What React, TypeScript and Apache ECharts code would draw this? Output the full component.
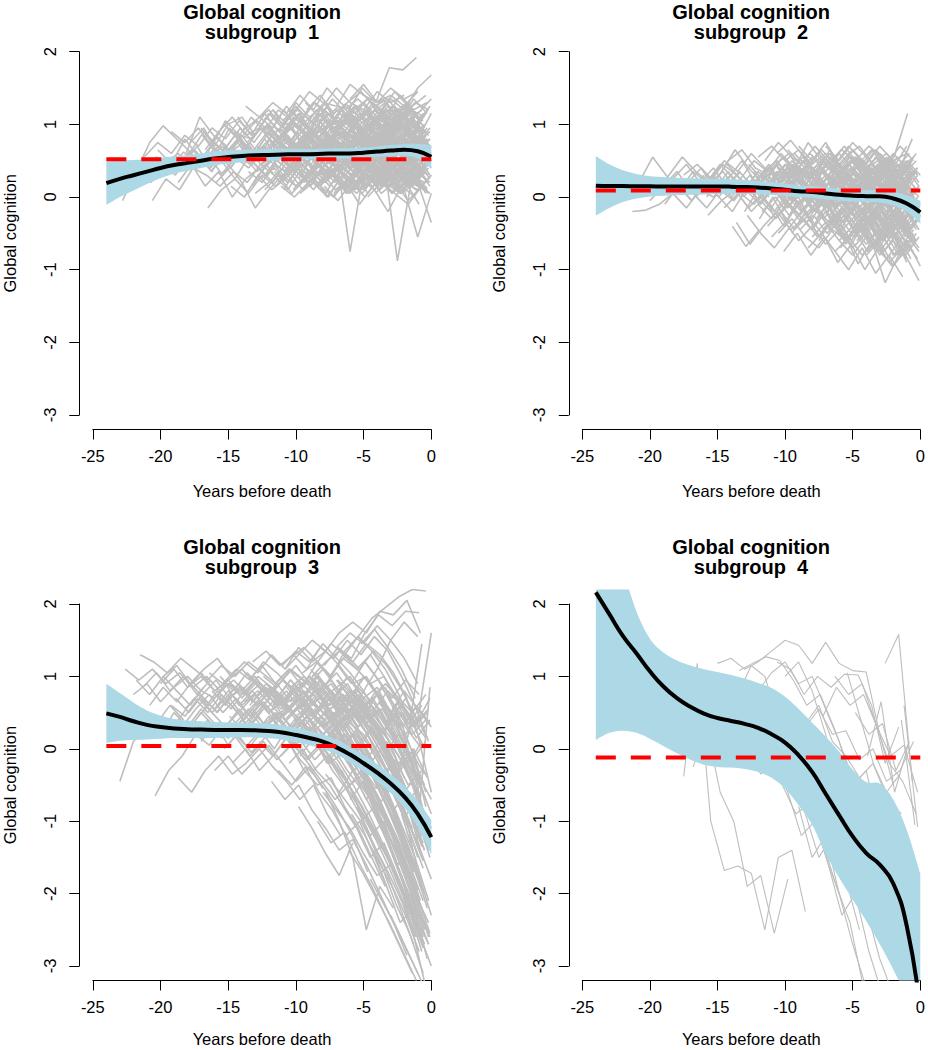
import React, { useEffect, useRef } from "react";
import * as echarts from "echarts";

// ---------- data ----------
const years = [-24, -23, -22, -21, -20, -19, -18, -17, -16, -15, -14, -13, -12, -11, -10, -9, -8, -7, -6, -5, -4, -3, -2, -1, 0];
const panelTitles = ["subgroup  1", "subgroup  2", "subgroup  3", "subgroup  4"];
const mainTitle = "Global cognition";
const xName = "Years before death";
const yName = "Global cognition";

// subgroup 1
const mean1 = [0.19, 0.25, 0.30, 0.35, 0.40, 0.44, 0.47, 0.50, 0.53, 0.55, 0.565, 0.575, 0.58, 0.585, 0.59, 0.59, 0.595, 0.60, 0.60, 0.61, 0.625, 0.64, 0.65, 0.63, 0.555];
const upper1 = [0.49, 0.50, 0.51, 0.52, 0.54, 0.56, 0.58, 0.60, 0.625, 0.64, 0.65, 0.655, 0.66, 0.665, 0.665, 0.66, 0.665, 0.67, 0.67, 0.68, 0.695, 0.715, 0.73, 0.73, 0.715];
const lower1 = [-0.11, 0.0, 0.09, 0.18, 0.26, 0.32, 0.36, 0.40, 0.435, 0.46, 0.48, 0.495, 0.50, 0.505, 0.515, 0.52, 0.525, 0.53, 0.53, 0.54, 0.555, 0.565, 0.57, 0.53, 0.395];
const ref1 = 0.52;
// each trajectory: [first year, value at that year, value one year later, ...]
const gray1: number[][] = [
  [-22.8, -0.05, 0.35, 0.75, 0.98, 0.8, 0.62, 0.9, 0.7, 0.55],
  [-22.3, 0.1, 0.3, 0.55, 0.4, 0.62, 0.45, 0.7, 0.58, 0.8, 0.66, 0.5, 0.75, 0.62, 0.9, 0.7, 0.84, 0.6, 0.78, 0.7, 0.9, 0.65, 0.8],
  [-21.2, 0.55, 0.75, 0.6, 0.85, 0.7, 0.95, 0.8, 1.05, 0.85, 0.98, 0.8, 1.1, 0.95, 1.2, 1.0, 1.15, 0.9, 1.05, 1.25, 1.0, 1.1],
  [-20.6, -0.05, 0.25, 0.1, 0.4, 0.3, 0.15, 0.35, 0.2, 0.45, 0.3, 0.1, 0.38, 0.25, 0.5, 0.32, 0.2, 0.45, 0.3, 0.15, 0.4, 0.28],
  [-19.9, 0.5, 0.3, 0.62, 0.45, 0.85, 0.6, 0.75, 0.5, 0.68, 0.9, 0.7, 0.55, 0.8, 0.65, 0.92, 0.7, 0.85, 0.6, 0.78, 0.95],
  [-19.2, 0.9, 0.75, 0.95, 0.7, 1.05, 0.85, 0.8, 1.1, 0.9, 1.0, 0.82, 1.15, 0.95, 1.05, 0.88, 1.2, 1.0, 0.92, 1.1],
  [-18.7, 0.2, 0.45, 0.15, 0.35, 0.0, 0.25, 0.4, 0.2, 0.48, 0.3, 0.1, 0.35, 0.22, 0.45, 0.3, 0.15, 0.4, 0.25],
  [-18.1, 0.6, 1.1, 0.85, 0.7, 0.95, 0.75, 1.0, 0.8, 0.65, 0.9, 0.75, 1.05, 0.85, 0.7, 0.95, 0.8, 1.0, 0.85, 0.7],
  [-17.4, 0.4, 0.55, 0.3, 0.6, 0.45, 0.7, 0.5, 0.35, 0.62, 0.48, 0.75, 0.55, 0.4, 0.68, 0.5, 0.6, 0.45, 0.7],
  [-17.0, 0.95, 0.7, 1.0, 1.1, 0.85, 1.15, 0.95, 1.25, 1.05, 0.9, 1.2, 1.0, 1.3, 1.1, 0.95, 1.25, 1.15, 1.35],
  [-16.5, -0.15, 0.1, 0.25, 0.05, 0.3, 0.15, 0.35, 0.1, 0.28, 0.4, 0.2, 0.05, 0.3, 0.15, 0.38, 0.22, 0.1],
  [-16.0, 0.75, 0.55, 0.85, 0.6, 0.9, 0.7, 0.5, 0.8, 0.65, 0.95, 0.72, 0.6, 0.88, 0.7, 0.55, 0.82, 0.68],
  [-15.6, 0.3, 0.5, 0.7, 0.45, 0.62, 0.85, 0.55, 0.4, 0.72, 0.6, 0.5, 0.78, 0.55, 0.65, 0.45, 0.7],
  [-15.3, 1.0, 0.8, 1.1, 0.9, 1.2, 1.05, 0.85, 1.15, 1.0, 1.28, 1.1, 0.95, 1.2, 1.05, 1.35, 1.15],
  [-14.8, 0.15, 0.0, 0.3, 0.1, 0.25, 0.45, 0.2, 0.05, 0.35, 0.15, 0.3, 0.1, 0.28, 0.4, 0.2],
  [-14.4, 0.55, 0.75, 0.5, 0.8, 0.95, 0.7, 0.6, 0.85, 0.65, 0.9, 0.75, 0.55, 0.8, 0.7, 0.92],
  [-13.9, 0.85, 1.05, 0.9, 1.2, 0.95, 1.1, 1.3, 1.0, 1.15, 0.9, 1.2, 1.05, 1.25, 1.1],
  [-13.5, 0.35, 0.2, 0.45, 0.3, 0.55, 0.35, 0.25, 0.5, 0.3, 0.42, 0.2, 0.38, 0.25, 0.45],
  [-13.1, 0.65, 0.9, 0.7, 0.5, 0.8, 0.95, 0.72, 0.6, 0.88, 0.7, 0.82, 0.58, 0.75, 0.9],
  [-12.7, 1.1, 0.95, 1.25, 1.05, 1.3, 1.15, 0.98, 1.2, 1.35, 1.1, 1.25, 1.05, 1.2],
  [-12.3, 0.1, 0.3, 0.05, 0.25, 0.15, 0.35, 0.05, 0.2, 0.4, 0.18, 0.05, 0.3, 0.12],
  [-12.0, 0.5, 0.65, 0.45, 0.7, 0.55, 0.8, 0.6, 0.48, 0.72, 0.58, 0.68, 0.5, 0.62],
  [-11.6, 0.8, 0.65, 0.9, 0.75, 1.0, 0.82, 0.7, 0.95, 0.78, 1.05, 0.85, 0.72],
  [-11.2, 0.25, 0.45, 0.6, 0.4, 0.3, 0.55, 0.42, 0.65, 0.35, 0.5, 0.38, 0.58],
  [-10.8, 0.95, 1.15, 0.9, 1.1, 1.25, 1.0, 1.2, 0.95, 1.15, 1.3, 1.05],
  [-10.4, 0.6, 0.4, 0.7, 0.55, 0.75, 0.5, 0.65, 0.85, 0.6, 0.45, 0.7],
  [-10.0, 0.15, 0.35, 0.2, 0.4, 0.25, 0.1, 0.3, 0.45, 0.22, 0.08, 0.3],
  [-9.6, 0.75, 0.95, 0.8, 1.0, 0.85, 1.1, 0.9, 0.75, 1.0, 0.88],
  [-9.2, 1.2, 1.4, 1.15, 1.3, 1.45, 1.25, 1.35, 1.1, 1.3, 1.2],
  [-8.8, 0.4, 0.2, 0.45, 0.3, 0.5, 0.35, 0.55, 0.3, 0.42],
  [-8.4, 0.7, 0.85, 0.6, 0.9, 0.7, 0.95, 0.75, 0.6, 0.85],
  [-8.0, 0.3, 0.5, 0.65, 0.45, 0.6, 0.4, 0.55, 0.7, 0.5],
  [-7.6, 1.0, 0.85, 1.1, 0.95, 1.2, 1.0, 0.9, 1.15],
  [-7.2, 0.05, 0.25, 0.1, 0.3, 0.15, 0.35, 0.2, 0.05],
  [-6.8, 0.55, 0.75, 0.6, 0.8, 0.65, 0.5, 0.72],
  [-6.3, 0.85, 1.05, 1.25, 1.0, 1.15, 0.95, 1.2],
  [-5.9, 0.45, 0.3, 0.55, 0.4, 0.6, 0.35],
  [-5.5, 0.7, 0.9, 0.75, 0.95, 0.8, 1.0],
  [-5.1, 0.2, 0.4, 0.25, 0.1, 0.35, 0.2],
  [-4.6, 0.9, 1.1, 0.95, 1.2, 1.05],
  [-9.0, 0.6, 0.75, 0.55, -0.75, 0.35, 0.5, 0.4, 0.6, 0.45],
  [-5.5, 0.45, 0.25, 0.5, -0.88, 0.2, 0.1],
  [-3.0, 0.3, 0.1, -0.55, 0.05],
  [-6.1, 1.2, 1.5, 1.3, 1.78, 1.75, 1.92],
  [-4.0, 1.1, 1.35, 1.2, 1.5, 1.68],
  [-11.0, 1.05, 1.2, 1.45, 1.3, 1.25, 1.55, 1.4, 1.3, 1.5, 1.35, 1.45],
  [-14.0, 0.9, 1.05, 1.2, 0.95, 1.3, 1.1, 1.25, 1.5, 1.3, 1.2, 1.45, 1.3, 1.4],
  [-16.7, 0.65, 0.9, 1.1, 0.85, 0.95, 1.2, 1.0, 1.1, 0.9, 1.15, 1.0, 1.25, 1.05, 0.95, 1.2, 1.1],
  [-12.5, 0.45, 0.6, 0.8, 0.55, 0.7, 0.45, 0.65, 0.85, 0.6, 0.75, 0.5, 0.7, 0.55],
  [-11.8, 0.9, 0.7, 0.55, 0.8, 0.6, 0.9, 0.7, 0.85, 0.65, 0.5, 0.75, 0.6],
  [-10.9, 0.35, 0.55, 0.75, 0.5, 0.65, 0.4, 0.6, 0.8, 0.55, 0.4, 0.65],
  [-9.9, 0.55, 0.3, 0.5, 0.7, 0.45, 0.62, 0.8, 0.55, 0.7, 0.5],
  [-8.9, 0.95, 0.75, 0.6, 0.85, 0.65, 0.9, 0.7, 0.55, 0.8],
  [-7.9, 0.25, 0.45, 0.3, 0.55, 0.4, 0.25, 0.5, 0.35],
  [-6.9, 0.65, 0.45, 0.7, 0.5, 0.8, 0.6, 0.75],
  [-15.9, 0.2, 0.4, 0.6, 0.35, 0.5, 0.3, 0.55, 0.45, 0.65, 0.4, 0.6, 0.5, 0.35, 0.55, 0.45, 0.6],
  [-14.1, 0.7, 0.5, 0.65, 0.45, 0.75, 0.55, 0.8, 0.6, 0.45, 0.7, 0.55, 0.75, 0.6, 0.5],
  [-13.0, 0.05, 0.2, 0.4, 0.15, 0.3, 0.5, 0.25, 0.1, 0.35, 0.2, 0.45, 0.3, 0.15],
  [-12.2, 1.0, 0.8, 1.05, 0.85, 0.7, 0.95, 1.1, 0.9, 0.75, 1.0, 0.85, 1.05],
  [-4.4, 0.6, 0.4, 0.65, 0.5, 0.7],
  [-3.6, 0.85, 0.65, 0.9, 0.7],
  [-7.3, 1.1, 0.9, 0.8, 1.05, 0.85, 1.0, 0.75, 0.95],
  [-10.2, 0.1, 0.3, 0.15, 0.0, 0.25, 0.35, 0.1, 0.3, 0.05, 0.2, 0.4],
  [-2.5, 0.3, 0.55, 0.35],
  [-19.5, 0.3, 0.5, 0.65, 0.45, 0.7, 0.55, 0.4, 0.6, 0.8, 0.55],
  [-17.8, 0.75, 0.95, 0.6, 0.4, 0.7, 0.5, 0.85, 0.65, 0.5],
  [-15.0, 0.45, 0.2, -0.15, 0.1, 0.3, 0.15],
  [-21.7, 0.35, 0.2, 0.45, 0.6, 0.4, 0.55, 0.7, 0.5],
  [-8.2, 0.15, 0.35, 0.05, 0.25, 0.1, -0.2, 0.15, 0.0],
  [-1.0, 0.2, -0.35],
  [-6.0, 1.35, 1.55, 1.3, 1.4, 1.25, 1.45],
  [-13.7, 1.25, 1.1, 1.3, 1.15, 1.4, 1.2, 1.5, 1.3, 1.15, 1.35, 1.2, 1.45, 1.25],
  [-12.9, 0.7, 0.55, 0.8, 0.65, 0.9, 0.75, 0.6, 0.85, 0.7, 0.95, 0.8, 0.65, 0.85],
  [-12.6, 0.25, 0.4, 0.2, 0.45, 0.3, 0.5, 0.35, 0.2, 0.4, 0.25, 0.45, 0.3, 0.5],
  [-11.9, 1.15, 1.0, 1.2, 1.05, 0.9, 1.1, 0.95, 1.2, 1.05, 1.25, 1.1, 0.95],
  [-11.4, 0.55, 0.7, 0.5, 0.75, 0.6, 0.45, 0.65, 0.8, 0.55, 0.7, 0.5, 0.65],
  [-11.1, 0.15, 0.0, 0.2, 0.35, 0.1, 0.25, 0.05, 0.3, 0.15, 0.35, 0.2, 0.05],
  [-10.7, 0.85, 0.65, 0.9, 0.7, 0.95, 0.8, 0.6, 0.85, 0.7, 0.9, 0.75],
  [-10.3, 0.4, 0.6, 0.45, 0.3, 0.5, 0.65, 0.4, 0.55, 0.35, 0.6, 0.45],
  [-9.8, 1.0, 0.8, 1.05, 0.9, 0.75, 1.0, 0.85, 1.1, 0.9, 1.05],
  [-9.4, 0.2, 0.45, 0.3, 0.15, 0.4, 0.25, 0.5, 0.3, 0.15, 0.35],
  [-9.1, 0.65, 0.5, 0.75, 0.6, 0.85, 0.65, 0.5, 0.7, 0.55, 0.8],
  [-8.7, 1.1, 0.95, 1.2, 1.0, 1.15, 0.9, 1.05, 1.25, 1.0],
  [-8.5, 0.35, 0.15, 0.4, 0.2, 0.45, 0.25, 0.1, 0.3, 0.2],
  [-8.1, 0.8, 0.6, 0.85, 0.7, 0.55, 0.8, 0.65, 0.9, 0.7],
  [-7.7, 0.45, 0.65, 0.4, 0.6, 0.45, 0.7, 0.5, 0.35],
  [-7.4, 0.9, 1.05, 0.85, 1.1, 0.95, 0.8, 1.05, 0.9],
  [-7.0, 0.2, 0.05, 0.3, 0.15, 0.4, 0.2, 0.1, 0.3],
  [-6.6, 0.7, 0.55, 0.8, 0.6, 0.75, 0.55, 0.7],
  [-6.2, 0.35, 0.5, 0.3, 0.55, 0.4, 0.25, 0.45],
  [-5.8, 1.05, 0.9, 1.15, 0.95, 1.1, 0.9],
  [-5.3, 0.6, 0.8, 0.65, 0.85, 0.7, 0.55],
  [-4.9, 0.3, 0.15, 0.4, 0.25, 0.45],
  [-4.2, 0.75, 0.95, 0.8, 1.0, 0.85],
  [-3.8, 0.1, 0.3, 0.15, 0.35],
  [-3.3, 0.55, 0.75, 0.6, 0.8],
  [-2.8, 1.0, 1.2, 1.05],
  [-2.2, 0.25, 0.45, 0.3],
  [-14.6, 0.9, 0.7, 0.95, 0.8, 0.65, 0.9, 0.75, 1.0, 0.85, 0.7, 0.95, 0.8, 1.05, 0.85],
  [-13.3, 0.5, 0.3, 0.55, 0.4, 0.25, 0.5, 0.35, 0.6, 0.45, 0.3, 0.55, 0.4, 0.6],
  [-15.2, 0.6, 0.8, 0.55, 0.75, 0.95, 0.7, 0.85, 0.6, 0.8, 0.65, 0.9, 0.7, 0.85, 0.6, 0.75],
  [-16.3, 0.35, 0.55, 0.75, 0.5, 0.7, 0.4, 0.6, 0.8, 0.5, 0.7, 0.45, 0.65, 0.85, 0.6, 0.75, 0.5],
  [-10.6, 1.2, 1.05, 1.3, 1.15, 1.0, 1.25, 1.1, 1.35, 1.15, 1.3],
  [-9.7, 0.05, 0.2, 0.0, 0.25, 0.1, 0.3, 0.05, 0.2, -0.05, 0.15],
  [-7.9, 0.15, -0.05, 0.2, 0.0, 0.25, 0.05, 0.2, -0.1],
  [-6.4, 1.2, 1.35, 1.15, 1.3, 1.1, 1.25, 1.4],
  [-11.5, 0.95, 0.75, 1.0, 0.8, 0.65, 0.9, 0.75, 0.95, 0.8, 1.0, 0.85, 0.7],
  [-12.8, 0.3, 0.5, 0.65, 0.4, 0.55, 0.75, 0.5, 0.35, 0.6, 0.45, 0.7, 0.5, 0.35],
  [-5.0, 0.5, 0.3, 0.55, 0.35, 0.6, 0.4],
  [-4.7, 0.0, 0.2, 0.05, -0.1, 0.15],
  [-8.6, 0.55, 0.75, 0.9, 0.7, 0.85, 0.65, 0.8, 0.6, 0.75],
  [-10.1, 0.7, 0.9, 0.65, 0.85, 0.7, 0.95, 0.75, 0.6, 0.85, 0.65, 0.8],
  [-6.9, 0.3, 0.5, 0.35, 0.55, 0.25, 0.45, 0.6],
  [-3.5, 1.15, 0.95, 1.2, 1.1],
  [-13.6, 0.75, 0.95, 0.7, 0.9, 1.05, 0.85, 1.0, 0.8, 0.95, 1.1, 0.9, 1.05, 0.85],
  [-12.4, 0.95, 0.6, 1.0, 0.7, 1.1, 0.8, 0.55, 0.9, 0.65, 1.0, 0.75, 0.5, 0.85],
  [-12.1, 0.3, 0.6, 0.35, 0.7, 0.4, 0.2, 0.55, 0.3, 0.65, 0.35, 0.15, 0.5, 0.25],
  [-11.7, 1.2, 0.9, 1.15, 0.85, 1.25, 0.95, 1.1, 0.8, 1.2, 0.9, 1.15, 0.85],
  [-11.3, 0.7, 0.45, 0.8, 0.5, 0.85, 0.55, 0.9, 0.6, 0.35, 0.75, 0.5, 0.8],
  [-10.9, 0.1, 0.4, 0.15, 0.45, 0.2, 0.5, 0.1, 0.35, 0.05, 0.4, 0.15],
  [-10.5, 1.0, 0.7, 1.05, 0.75, 1.15, 0.85, 0.65, 1.0, 0.7, 1.1, 0.8],
  [-10.2, 0.55, 0.85, 0.5, 0.8, 0.45, 0.75, 0.5, 0.9, 0.55, 0.8, 0.5],
  [-9.8, 0.25, 0.55, 0.3, 0.6, 0.35, 0.15, 0.5, 0.25, 0.6, 0.3],
  [-9.5, 0.9, 1.2, 0.95, 1.25, 1.0, 0.75, 1.1, 0.85, 1.2, 0.95],
  [-9.1, 0.45, 0.2, 0.5, 0.75, 0.4, 0.65, 0.3, 0.55, 0.25, 0.6],
  [-8.8, 0.8, 1.05, 0.7, 0.95, 0.6, 0.9, 0.65, 1.0, 0.75],
  [-8.4, 0.15, 0.4, 0.1, 0.35, 0.55, 0.25, 0.45, 0.15, 0.4],
  [-8.1, 1.15, 0.85, 1.2, 0.9, 1.1, 0.8, 1.15, 0.95, 1.25],
  [-7.8, 0.6, 0.35, 0.7, 0.45, 0.75, 0.5, 0.8, 0.55],
  [-7.5, 0.4, 0.7, 0.45, 0.8, 0.5, 0.3, 0.65, 0.4],
  [-7.1, 0.85, 1.1, 0.8, 1.05, 0.75, 1.0, 0.7, 0.95],
  [-6.7, 0.1, 0.35, 0.05, 0.3, 0.5, 0.2, 0.4],
  [-6.5, 0.75, 0.5, 0.85, 0.6, 0.95, 0.65, 0.9],
  [-6.1, 0.45, 0.7, 0.4, 0.65, 0.35, 0.6, 0.3],
  [-5.7, 1.1, 0.8, 1.15, 0.85, 1.2, 0.9],
  [-5.4, 0.25, 0.55, 0.2, 0.5, 0.15, 0.45],
  [-5.1, 0.8, 0.55, 0.9, 0.6, 0.95, 0.7],
  [-4.8, 0.5, 0.85, 0.55, 0.9, 0.6],
  [-4.5, 1.0, 0.7, 1.1, 0.75, 1.15],
  [-4.1, 0.05, 0.3, 0.1, 0.4, 0.15],
  [-3.7, 0.65, 0.4, 0.75, 0.45],
  [-3.4, 0.95, 1.2, 0.9, 1.15],
  [-3.1, 0.35, 0.6, 0.25, 0.55],
  [-2.7, 0.75, 0.5, 0.85],
  [-2.4, 0.1, 0.35, 0.05],
  [-2.0, 1.05, 0.8, 1.15],
  [-1.6, 0.6, 0.3],
  [-1.3, 0.9, 1.2],
  [-13.2, 0.15, 0.45, 0.2, 0.5, 0.25, 0.55, 0.3, 0.1, 0.4, 0.2, 0.5, 0.25, 0.45, 0.2],
  [-14.3, 1.1, 0.85, 1.15, 0.9, 1.2, 0.95, 0.8, 1.05, 0.85, 1.15, 0.9, 1.2, 0.95, 1.1],
  [-15.5, 0.5, 0.25, 0.55, 0.35, 0.65, 0.4, 0.2, 0.5, 0.3, 0.6, 0.35, 0.55, 0.3, 0.5, 0.25],
  [-16.9, 0.85, 0.6, 0.95, 0.7, 0.5, 0.8, 0.55, 0.9, 0.65, 0.85, 0.6, 0.95, 0.7, 0.8, 0.55, 0.75],
  [-18.3, 0.45, 0.7, 0.4, 0.65, 0.9, 0.55, 0.8, 0.5, 0.75, 0.45],
  [-20.2, 0.65, 0.45, 0.8, 0.55, 0.35, 0.7, 0.5],
  [-11.6, 0.35, 0.2, 0.45, 0.25, 0.0, 0.3, 0.1, 0.35, 0.2, 0.45, 0.3, 0.1],
  [-9.3, 1.3, 1.1, 1.35, 1.15, 1.05, 1.3, 1.1, 1.4, 1.2, 1.3],
  [-7.3, 0.0, 0.2, -0.1, 0.15, 0.3, 0.05, 0.25, 0.1],
];

// subgroup 2
const mean2 = [0.155, 0.15, 0.15, 0.148, 0.147, 0.146, 0.145, 0.145, 0.145, 0.145, 0.143, 0.138, 0.13, 0.118, 0.10, 0.08, 0.07, 0.05, 0.03, 0.018, 0.012, 0.01, -0.02, -0.09, -0.21];
const upper2 = [0.565, 0.45, 0.37, 0.318, 0.287, 0.276, 0.265, 0.26, 0.255, 0.25, 0.243, 0.233, 0.22, 0.208, 0.185, 0.16, 0.15, 0.13, 0.11, 0.098, 0.092, 0.095, 0.075, 0.02, -0.05];
const lower2 = [-0.255, -0.15, -0.07, -0.022, 0.007, 0.016, 0.025, 0.03, 0.035, 0.04, 0.043, 0.043, 0.04, 0.028, 0.015, 0.0, -0.01, -0.03, -0.05, -0.062, -0.068, -0.075, -0.115, -0.2, -0.37];
const ref2 = 0.09;
const gray2: number[][] = [
  [-21.3, -0.2, -0.18, -0.1, 0.05, -0.15, 0.1, 0.0, 0.2, 0.05, -0.1, 0.15, 0.0, 0.25, 0.1, -0.05, 0.2, 0.05, 0.3, 0.1, 0.0, 0.15],
  [-20.8, 0.2, 0.55, 0.3, 0.1, 0.35, 0.2, 0.45, 0.25, 0.1, 0.3, 0.15, 0.4, 0.2, 0.05, 0.3, 0.15, 0.35, 0.1, 0.25, 0.05],
  [-19.6, 0.1, 0.3, 0.55, 0.35, 0.2, 0.45, 0.3, 0.1, 0.35, 0.5, 0.25, 0.4, 0.15, 0.3, 0.05, 0.25, 0.4, 0.2, 0.35],
  [-18.9, -0.1, 0.15, -0.05, 0.2, 0.0, -0.2, 0.1, -0.1, 0.15, -0.05, -0.25, 0.0, -0.15, 0.1, -0.1, -0.3, -0.05, -0.2],
  [-17.5, 0.3, 0.45, 0.25, 0.5, 0.35, 0.6, 0.4, 0.25, 0.5, 0.3, 0.45, 0.2, 0.4, 0.25, 0.1, 0.35, 0.15],
  [-16.8, 0.05, -0.15, 0.1, -0.05, 0.2, 0.0, -0.2, 0.05, -0.1, 0.15, -0.15, -0.05, -0.3, -0.1, -0.4, -0.2, -0.45],
  [-16.2, 0.4, 0.2, 0.5, 0.65, 0.4, 0.3, 0.55, 0.35, 0.6, 0.45, 0.3, 0.5, 0.35, 0.55, 0.4, 0.25],
  [-15.7, -0.25, -0.05, 0.1, -0.15, 0.05, -0.3, -0.1, 0.05, -0.2, -0.35, -0.15, -0.4, -0.25, -0.5, -0.3, -0.6],
  [-15.0, 0.15, 0.3, 0.1, 0.35, 0.2, 0.45, 0.25, 0.1, 0.3, 0.15, 0.4, 0.2, 0.05, 0.25, 0.1],
  [-14.3, 0.45, 0.25, 0.5, 0.35, 0.6, 0.4, 0.75, 0.5, 0.35, 0.55, 0.4, 0.65, 0.45, 0.3, 0.5],
  [-13.6, -0.35, -0.65, -0.4, -0.2, -0.45, -0.3, -0.55, -0.35, -0.6, -0.4, -0.7, -0.5, -0.8, -0.55],
  [-13.1, 0.0, 0.2, 0.05, 0.25, 0.1, -0.05, 0.15, 0.0, 0.2, 0.05, -0.1, 0.1, -0.05, 0.15],
  [-12.6, 0.3, 0.1, 0.35, 0.15, 0.4, 0.2, 0.05, 0.3, 0.1, 0.35, 0.15, 0.0, 0.25],
  [-12.0, -0.1, -0.3, -0.05, -0.25, -0.45, -0.2, -0.4, -0.15, -0.35, -0.55, -0.3, -0.5, -0.25],
  [-11.5, 0.5, 0.75, 0.55, 0.4, 0.6, 0.35, 0.55, 0.7, 0.45, 0.6, 0.4, 0.55],
  [-11.0, 0.2, 0.0, 0.25, 0.05, -0.15, 0.1, -0.05, 0.2, 0.0, -0.2, 0.05, -0.1],
  [-10.5, -0.5, -0.3, -0.55, -0.7, -0.45, -0.6, -0.4, -0.65, -0.85, -0.6, -0.75],
  [-10.2, 0.35, 0.15, 0.4, 0.2, 0.45, 0.25, 0.1, 0.3, 0.5, 0.25, 0.4],
  [-9.7, 0.05, -0.2, 0.0, -0.25, -0.05, -0.3, -0.1, -0.35, -0.15, -0.4],
  [-9.3, 0.6, 0.4, 0.65, 0.45, 0.7, 0.5, 0.3, 0.55, 0.35, 0.6],
  [-8.8, -0.3, -0.1, -0.35, -0.15, -0.4, -0.6, -0.35, -0.55, -0.75],
  [-8.3, 0.15, 0.35, 0.1, 0.3, 0.05, 0.25, 0.0, 0.2, -0.05],
  [-7.8, -0.05, 0.2, -0.1, 0.1, -0.15, 0.05, -0.25, -0.05],
  [-7.3, 0.4, 0.2, 0.45, 0.25, 0.55, 0.3, 0.1, 0.35],
  [-6.8, -0.45, -0.2, -0.5, -0.3, -0.6, -0.4, -0.7],
  [-6.2, 0.1, -0.1, 0.15, -0.05, 0.2, 0.0, -0.2],
  [-5.7, -0.25, -0.5, -0.3, -0.55, -0.35, -0.6],
  [-5.2, 0.3, 0.5, 0.25, 0.45, 0.2, 0.4],
  [-4.7, -0.6, -0.4, -0.75, -0.5, -0.85],
  [-4.2, 0.0, 0.25, -0.05, 0.2, -0.1],
  [-3.6, -0.3, -0.1, -0.4, -0.2],
  [-3.2, 0.45, 0.2, 0.5, 0.3],
  [-5.6, -0.5, -0.92, -0.6, -1.18, -0.8, -0.65],
  [-2.1, -0.45, -0.8, -1.15],
  [-3.94, 0.2, 0.3, 0.55, 1.15],
  [-1.6, 0.35, 0.8],
  [-10.6, 0.6, 0.78, 0.55, 0.3, 0.5, 0.7, 0.45, 0.65, 0.4, 0.55],
  [-14.7, 0.35, 0.65, 0.4, 0.2, 0.45, 0.6, 0.3],
  [-12.8, -0.25, -0.5, -0.7, -0.45, -0.2],
  [-13.9, -0.4, -0.68, -0.45],
  [-12.4, 0.1, 0.3, 0.15, -0.05, 0.2, 0.4, 0.15, 0.35, 0.1, 0.3, 0.05, 0.25],
  [-11.7, -0.2, 0.0, -0.25, -0.05, 0.15, -0.1, 0.1, -0.15, -0.35, -0.1, -0.3, -0.5],
  [-10.9, 0.25, 0.45, 0.2, 0.4, 0.15, 0.35, 0.55, 0.3, 0.5, 0.25, 0.45],
  [-9.9, -0.15, 0.05, -0.2, 0.0, -0.3, -0.1, -0.35, -0.15, -0.4, -0.2],
  [-8.6, 0.5, 0.3, 0.55, 0.35, 0.15, 0.4, 0.2, 0.45, 0.25],
  [-7.6, -0.2, -0.45, -0.25, -0.5, -0.3, -0.55, -0.35, -0.6],
  [-6.6, 0.25, 0.05, 0.3, 0.1, 0.35, 0.15, 0.4],
  [-5.5, 0.6, 0.4, 0.65, 0.45, 0.7, 0.5],
  [-4.5, -0.15, 0.1, -0.2, 0.05, -0.3],
  [-9.5, 0.2, 0.0, 0.25, 0.05, 0.3, 0.1, -0.1, 0.15, -0.05, 0.1],
  [-11.3, -0.4, -0.2, -0.45, -0.25, -0.5, -0.3, -0.55, -0.35, -0.65, -0.45, -0.7],
  [-7.0, 0.7, 0.5, 0.75, 0.55, 0.35, 0.6, 0.4],
  [-6.0, -0.6, -0.8, -0.55, -0.75, -0.5, -0.9],
  [-3.8, 0.1, -0.15, 0.15, -0.1],
  [-2.6, -0.25, 0.0, -0.3],
  [-8.0, -0.55, -0.35, -0.6, -0.4, -0.65, -0.45, -0.8, -0.6, -0.95],
  [-14.0, 0.0, 0.2, -0.05, 0.15, -0.1, 0.1, -0.15, 0.05],
  [-17.9, 0.15, -0.05, 0.2, 0.0, 0.25, 0.05],
  [-20.0, -0.05, 0.15, 0.35, 0.1, 0.3],
  [-12.0, 0.55, 0.7, 0.5, 0.65, 0.45, 0.6, 0.4],
  [-6.8, 0.45, 0.65, 0.5, 0.7, 0.55, 0.4, 0.6],
  [-9.0, -0.25, -0.45, -0.2, -0.5, -0.3, -0.1, -0.35, -0.55, -0.3],
  [-12.2, 0.2, 0.4, 0.25, 0.45, 0.3, 0.1, 0.35, 0.15, 0.4, 0.2, 0.45, 0.25],
  [-11.8, -0.05, -0.25, 0.0, -0.2, 0.05, -0.15, -0.35, -0.1, -0.3, -0.05, -0.25, -0.45],
  [-11.2, 0.4, 0.2, 0.45, 0.25, 0.5, 0.3, 0.55, 0.35, 0.15, 0.4, 0.2, 0.35],
  [-10.8, -0.3, -0.1, -0.35, -0.15, -0.4, -0.2, -0.45, -0.25, -0.5, -0.3, -0.55],
  [-10.4, 0.1, 0.3, 0.05, 0.25, 0.0, 0.2, -0.05, 0.15, -0.1, 0.1, -0.15],
  [-10.0, 0.5, 0.3, 0.55, 0.35, 0.6, 0.4, 0.2, 0.45, 0.25, 0.5, 0.3],
  [-9.6, -0.1, 0.1, -0.15, 0.05, -0.2, 0.0, -0.25, -0.05, -0.3, -0.1],
  [-9.2, 0.3, 0.1, 0.35, 0.15, 0.4, 0.2, 0.0, 0.25, 0.05, 0.3],
  [-8.9, -0.45, -0.25, -0.5, -0.3, -0.55, -0.35, -0.6, -0.4, -0.65],
  [-8.5, 0.05, -0.15, 0.1, -0.1, 0.15, -0.05, -0.25, 0.0, -0.2],
  [-8.1, 0.35, 0.55, 0.3, 0.5, 0.25, 0.45, 0.2, 0.4, 0.15],
  [-7.7, -0.3, -0.05, -0.35, -0.1, -0.4, -0.15, -0.45, -0.2],
  [-7.4, 0.2, 0.0, 0.25, 0.05, 0.3, 0.1, -0.1, 0.15],
  [-7.1, -0.1, -0.3, -0.05, -0.25, -0.5, -0.2, -0.45, -0.7],
  [-6.7, 0.6, 0.35, 0.55, 0.3, 0.5, 0.25, 0.45],
  [-6.4, -0.15, 0.05, -0.2, 0.0, -0.3, -0.1, -0.35],
  [-6.1, 0.3, 0.1, 0.35, 0.15, -0.05, 0.2, 0.0],
  [-5.9, -0.7, -0.45, -0.75, -0.5, -0.8, -0.6],
  [-5.4, 0.0, 0.2, -0.05, 0.15, -0.1, 0.1],
  [-5.0, -0.35, -0.15, -0.4, -0.2, -0.45, -0.25],
  [-4.6, 0.4, 0.15, 0.45, 0.2, 0.5],
  [-4.3, -0.5, -0.25, -0.55, -0.3, -0.6],
  [-3.9, 0.2, -0.05, 0.25, 0.0],
  [-3.4, -0.15, -0.4, -0.1, -0.35],
  [-2.9, 0.1, 0.35, 0.05],
  [-2.4, -0.6, -0.3, -0.65],
  [-1.9, 0.15, -0.1],
  [-13.3, 0.25, 0.05, 0.3, 0.1, 0.35, 0.15, -0.05, 0.2, 0.0, 0.25, 0.05, 0.3, 0.1],
  [-14.5, -0.15, 0.05, -0.2, 0.0, 0.2, -0.05, 0.15, -0.1, 0.1, -0.15, 0.05, -0.2, 0.0],
  [-15.4, 0.3, 0.1, 0.35, 0.15, 0.4, 0.2, 0.45, 0.25, 0.05, 0.3],
  [-16.6, 0.0, 0.2, 0.35, 0.1, 0.3, 0.05, 0.25],
  [-18.3, 0.25, 0.45, 0.2, 0.4, 0.15, 0.35],
  [-11.0, -0.55, -0.35, -0.6, -0.4, -0.65, -0.45, -0.7, -0.5, -0.8, -0.6, -0.85],
  [-8.3, -0.7, -0.5, -0.75, -0.55, -0.8, -0.6, -0.9, -0.7],
  [-4.0, -0.8, -0.6, -0.95, -0.7],
  [-12.7, 0.45, 0.25, 0.5, 0.3, 0.55, 0.35, 0.6, 0.4, 0.2, 0.45, 0.3],
  [-9.8, 0.65, 0.45, 0.7, 0.5, 0.3, 0.55, 0.35],
  [-3.0, 0.6, 0.4, 0.7],
  [-12.3, 0.35, 0.05, 0.4, 0.1, 0.45, 0.15, -0.1, 0.25, 0.0, 0.3, 0.05, 0.35, 0.1],
  [-11.9, -0.3, 0.0, -0.35, -0.05, -0.4, -0.1, -0.45, -0.15, -0.5, -0.2, -0.55, -0.25],
  [-11.6, 0.15, 0.45, 0.1, 0.4, 0.05, 0.35, 0.0, 0.3, 0.05, 0.4, 0.1, 0.35],
  [-11.1, -0.1, -0.4, -0.05, -0.35, 0.0, -0.3, -0.6, -0.25, -0.55, -0.2, -0.5, -0.75],
  [-10.7, 0.45, 0.15, 0.5, 0.2, 0.55, 0.25, 0.0, 0.3, 0.05, 0.35, 0.1],
  [-10.3, -0.2, 0.1, -0.25, 0.05, -0.3, 0.0, -0.35, -0.05, -0.4, -0.1, -0.45],
  [-9.9, 0.3, 0.0, 0.35, 0.05, 0.4, 0.1, -0.15, 0.2, -0.1, 0.25],
  [-9.5, -0.5, -0.2, -0.55, -0.25, -0.6, -0.3, -0.65, -0.35, -0.7, -0.45],
  [-9.1, 0.05, 0.35, 0.0, 0.3, -0.05, 0.25, -0.1, 0.2, -0.15, 0.15],
  [-8.7, 0.6, 0.3, 0.65, 0.35, 0.1, 0.4, 0.15, 0.45, 0.2],
  [-8.4, -0.35, -0.05, -0.4, -0.1, -0.45, -0.15, -0.5, -0.2, -0.6],
  [-8.1, 0.0, -0.3, 0.05, -0.25, 0.1, -0.2, -0.5, -0.15, -0.45],
  [-7.8, 0.25, 0.5, 0.2, 0.45, 0.15, 0.4, 0.1, 0.35],
  [-7.5, -0.6, -0.3, -0.65, -0.35, -0.7, -0.4, -0.8, -0.5],
  [-7.2, 0.1, -0.15, 0.15, -0.1, 0.2, -0.05, -0.3, 0.0],
  [-6.9, -0.2, 0.05, -0.25, 0.0, -0.35, -0.05, -0.4],
  [-6.5, 0.45, 0.2, 0.5, 0.25, 0.55, 0.3, 0.0],
  [-6.1, -0.4, -0.65, -0.35, -0.7, -0.45, -0.8, -0.55],
  [-5.8, 0.15, -0.1, 0.2, -0.05, 0.25, 0.0],
  [-5.5, -0.05, -0.35, 0.0, -0.3, -0.6, -0.25],
  [-5.1, 0.35, 0.1, 0.4, 0.15, 0.45, 0.2],
  [-4.8, -0.45, -0.15, -0.5, -0.2, -0.55],
  [-4.4, 0.2, -0.05, 0.3, 0.0, 0.35],
  [-4.1, -0.25, -0.5, -0.2, -0.55, -0.3],
  [-3.7, 0.5, 0.25, 0.55, 0.3],
  [-3.3, -0.7, -0.4, -0.8, -0.5],
  [-2.9, -0.05, 0.2, -0.1],
  [-2.5, 0.3, 0.0, 0.35],
  [-2.2, -0.3, -0.6, -0.85],
  [-1.8, 0.4, 0.1],
  [-1.5, -0.5, -0.2],
  [-13.0, -0.2, 0.1, -0.15, 0.15, -0.1, 0.2, -0.05, 0.25, 0.0, -0.25, 0.05, -0.2, 0.1],
  [-14.2, 0.25, 0.5, 0.2, 0.45, 0.15, 0.4, 0.1, 0.35, 0.05, 0.3, 0.0, 0.25, 0.05],
  [-15.8, 0.0, 0.25, -0.05, 0.2, -0.1, 0.15, -0.15, 0.1, -0.2, 0.05, -0.25],
  [-17.2, 0.2, 0.4, 0.1, 0.35, 0.05, 0.3, 0.0],
  [-10.1, -0.75, -0.5, -0.8, -0.55, -0.9, -0.65, -1.0, -0.7, -0.95, -0.75],
  [-6.3, -0.75, -1.0, -0.7, -1.05, -0.8, -1.1],
  [-9.0, 0.7, 0.5, 0.75, 0.45, 0.65, 0.4, 0.6, 0.35],
  [-5.0, 0.65, 0.45, 0.7, 0.5, 0.6],
];

// subgroup 3
const mean3 = [0.49, 0.44, 0.38, 0.33, 0.30, 0.28, 0.27, 0.265, 0.26, 0.26, 0.26, 0.255, 0.245, 0.225, 0.19, 0.15, 0.10, 0.02, -0.08, -0.20, -0.33, -0.48, -0.66, -0.90, -1.22];
const upper3 = [0.90, 0.77, 0.64, 0.53, 0.46, 0.41, 0.39, 0.38, 0.37, 0.365, 0.36, 0.355, 0.345, 0.325, 0.29, 0.25, 0.20, 0.12, 0.03, -0.085, -0.21, -0.35, -0.51, -0.72, -0.98];
const lower3 = [0.08, 0.11, 0.12, 0.13, 0.14, 0.15, 0.15, 0.15, 0.15, 0.155, 0.16, 0.155, 0.145, 0.125, 0.09, 0.05, 0.0, -0.08, -0.19, -0.315, -0.45, -0.61, -0.81, -1.08, -1.46];
const ref3 = 0.04;
const gray3: number[][] = [
  [-23.0, -0.45, 0.1, 0.3, 0.15, 0.4, 0.25, 0.5, 0.3, 0.15, 0.35],
  [-22.6, 1.1, 0.95, 1.1, 0.9, 1.05, 0.85, 1.0, 0.8, 0.95, 0.75, 0.9, 0.7, 0.55, 0.7, 0.45, 0.3, 0.1, -0.15, -0.45, -0.8, -1.2, -1.6, -2.1],
  [-22.0, 0.75, 0.9, 0.65, 0.85, 1.0, 0.8, 0.7, 0.9, 0.75, 0.95, 0.8, 0.65, 0.85, 0.7, 0.5, 0.6, 0.35, 0.2, -0.1, -0.4, -0.9, -1.5],
  [-21.5, 1.3, 1.2, 1.05, 1.25, 1.1, 0.95, 1.15, 1.0, 1.2, 1.05, 0.9, 1.1, 0.95, 0.8, 0.6, 0.75, 0.45, 0.3, 0.0, -0.4, -0.9, -1.4],
  [-21.0, 0.4, 0.2, 0.5, 0.3, 0.55, 0.35, 0.15, 0.4, 0.2, 0.45, 0.25, 0.05, 0.3, 0.0, -0.2, -0.5, -0.35, -0.8, -1.1, -1.5, -2.0],
  [-20.4, -0.65, -0.3, -0.1, 0.2, 0.05, 0.3, 0.15, -0.1, 0.1, -0.15, 0.05, -0.3, -0.5, -0.4, -0.8, -1.1, -1.5, -1.9],
  [-19.8, 1.0, 1.15, 0.9, 1.1, 1.25, 1.0, 1.2, 1.05, 1.3, 1.1, 1.4, 1.2, 1.35, 1.15, 0.9, 1.0, 0.7, 0.4, 0.0, -0.5],
  [-19.2, 0.6, 0.45, 0.7, 0.5, 0.3, 0.55, 0.35, 0.6, 0.4, 0.2, 0.45, 0.25, 0.0, -0.3, -0.55, -0.9, -1.3, -1.75, -2.3],
  [-18.7, -0.4, -0.6, -0.3, -0.1, -0.35, -0.2, 0.0, -0.25, -0.45, -0.7, -0.5, -0.9, -1.2],
  [-18.0, 0.85, 1.0, 0.8, 0.95, 1.1, 0.9, 0.75, 0.95, 0.8, 1.0, 0.7, 0.85, 0.6, 0.4, 0.5, 0.2, -0.1, -0.5],
  [-17.5, 0.2, 0.4, 0.15, 0.35, 0.55, 0.3, 0.5, 0.25, 0.4, 0.1, 0.3, -0.1, -0.4, -0.7, -1.1, -1.6, -2.2],
  [-17.0, 0.7, 0.55, 0.8, 0.6, 0.75, 0.5, 0.65, 0.4, 0.55, 0.3, 0.1, -0.2, -0.5, -0.95, -1.4, -1.9, -2.5],
  [-16.4, 1.05, 0.9, 1.1, 0.95, 1.2, 1.05, 0.85, 1.0, 0.8, 0.95, 0.65, 0.8, 0.5, 0.25, 0.0, -0.3, -0.7],
  [-15.9, 0.5, 0.7, 0.45, 0.65, 0.85, 0.6, 0.75, 0.5, 0.3, 0.5, 0.2, -0.1, -0.45, -0.85, -1.3, -1.8],
  [-15.3, 0.0, 0.2, -0.05, 0.15, 0.3, 0.1, -0.15, 0.05, -0.3, -0.55, -0.9, -1.3, -1.7, -2.2, -2.7],
  [-14.8, 0.9, 0.75, 1.0, 0.85, 0.7, 0.95, 0.75, 0.9, 0.6, 0.75, 0.45, 0.55, 0.2, -0.1, -0.5],
  [-14.2, 0.35, 0.55, 0.3, 0.5, 0.25, 0.45, 0.15, 0.35, 0.0, -0.25, -0.6, -1.0, -1.45, -2.0, -2.6],
  [-13.8, 0.65, 0.8, 0.6, 0.4, 0.6, 0.35, 0.5, 0.2, 0.0, -0.35, -0.7, -1.15, -1.6, -2.1],
  [-13.2, 1.2, 1.35, 1.15, 1.3, 1.1, 1.4, 1.25, 1.5, 1.3, 1.55, 1.35, 1.0, 0.6, 0.1],
  [-12.7, 0.1, -0.1, 0.15, -0.05, -0.3, -0.1, -0.4, -0.7, -1.0, -1.35, -1.7, -2.2, -2.8],
  [-12.1, 0.75, 0.55, 0.8, 0.6, 0.85, 0.65, 0.45, 0.6, 0.35, 0.1, -0.2, -0.6, -1.1],
  [-11.6, 0.4, 0.6, 0.35, 0.55, 0.3, 0.05, 0.25, -0.1, -0.45, -0.9, -1.4, -1.95],
  [-11.0, 0.95, 0.8, 1.0, 0.85, 1.05, 0.8, 0.6, 0.75, 0.4, 0.05, -0.4, -0.9],
  [-10.5, -0.2, 0.0, -0.3, -0.5, -0.8, -1.1, -1.5, -1.3, -1.75, -2.2, -2.7],
  [-10.0, 0.55, 0.7, 0.5, 0.3, 0.45, 0.15, -0.15, -0.5, -0.9, -1.3, -1.8],
  [-9.5, 1.05, 1.2, 1.0, 1.25, 1.1, 0.9, 1.0, 0.7, 0.4, 0.0],
  [-9.0, 0.2, 0.35, 0.1, -0.15, -0.4, -0.75, -1.15, -1.6, -2.1],
  [-8.6, 0.8, 0.6, 0.85, 0.65, 0.4, 0.55, 0.2, -0.15, -0.6],
  [-8.0, -0.6, -0.85, -1.1, -1.45, -1.75, -1.6, -2.0, -2.5, -3.0],
  [-7.5, 0.45, 0.25, 0.5, 0.2, -0.1, -0.45, -0.9, -1.4],
  [-7.0, 1.4, 1.6, 1.45, 1.7, 1.5, 1.25, 0.9],
  [-6.4, 0.0, -0.3, -0.65, -1.0, -1.4, -1.9],
  [-5.8, 0.6, 0.35, 0.55, 0.2, -0.2, -0.7],
  [-5.2, -1.0, -1.35, -1.7, -2.1, -2.6],
  [-4.6, 0.9, 0.7, 0.35, -0.1, -0.6],
  [-4.0, -0.4, -0.8, -1.25, -1.7, -2.3],
  [-10.8, 1.1, 1.3, 1.5, 1.35, 1.6, 1.75, 1.6, 1.9, 1.85, 2.05, 1.6],
  [-9.4, 0.9, 1.2, 1.0, 1.35, 1.55, 1.8, 1.95, 2.1, 2.2, 2.18],
  [-7.9, 1.15, 1.4, 1.25, 1.6, 1.85, 1.7, 1.9, 1.88],
  [-6.0, 0.5, 0.8, 1.1, 1.5, 1.75, 1.55],
  [-1.0, 0.4, 1.6],
  [-2.7, -0.5, 0.2, 1.45],
  [-6.6, -0.3, -0.7, -1.2, -1.65, -2.15, -2.55, -3.1],
  [-5.5, -0.8, -1.2, -1.0, -1.5, -2.0, -2.5],
  [-4.3, -1.4, -1.9, -2.4, -2.2, -2.9],
  [-3.5, -1.1, -1.6, -1.45, -2.0],
  [-2.4, -1.8, -2.5, -3.3],
  [-7.2, -0.5, -0.75, -1.0, -0.8, -1.3, -1.8, -2.3, -2.7],
  [-7.8, -0.6, -1.0, -1.5, -2.5, -1.9, -2.2],
  [-9.8, -0.8, -1.1, -1.45, -1.75, -1.3],
  [-4.2, 0.55, 0.3, -0.1, -0.6, -1.3],
  [-2.0, 0.8, 0.2, -0.6],
  [-1.8, -1.0, -1.9],
  [-6.9, 0.95, 0.75, 1.0, 0.7, 0.3, -0.2, -0.8],
  [-16.8, 0.55, 0.8, 0.6, 0.4, 0.65, 0.45, 0.2, 0.4, 0.15, -0.1],
  [-15.6, 1.0, 0.8, 1.05, 0.85, 0.65, 0.9, 0.7, 0.5, 0.75],
  [-14.5, 0.2, 0.0, 0.25, 0.45, 0.2, 0.35, 0.1, -0.2, -0.05, -0.4, -0.7],
  [-13.4, 0.6, 0.85, 0.7, 0.95, 0.75, 0.55, 0.8, 0.6, 0.4, 0.1, -0.25, -0.65, -1.1],
  [-12.4, 1.0, 0.85, 1.1, 0.95, 0.75, 0.9, 0.6, 0.75, 0.45, 0.2, -0.1, -0.5],
  [-11.3, -0.3, -0.5, -0.25, -0.6, -0.85, -1.2, -1.0, -1.45, -1.9],
  [-10.3, 0.3, 0.5, 0.25, 0.0, 0.2, -0.1, -0.4, -0.8, -1.25, -1.7],
  [-8.3, 0.65, 0.4, 0.7, 0.45, 0.15, -0.2, -0.55, -1.0],
  [-20.0, 0.9, 1.1, 0.85, 1.05, 0.8, 0.95, 0.7, 0.9],
  [-18.4, 0.3, 0.55, 0.75, 0.5, 0.7, 0.45, 0.65, 0.4, 0.55],
  [-16.0, -0.3, -0.1, -0.35, -0.15, 0.05, -0.2, -0.45, -0.25, -0.55],
  [-12.9, 0.45, 0.25, 0.5, 0.7, 0.45, 0.6, 0.35, 0.05, -0.3, -0.7, -1.2, -1.75, -2.35],
  [-9.2, 0.75, 0.95, 0.7, 0.5, 0.7, 0.35, 0.0, -0.4, -0.85, -1.35],
  [-11.9, 0.15, 0.35, 0.55, 0.3, 0.1, 0.3, -0.05, -0.35, -0.7, -1.1, -1.55, -2.05],
  [-7.7, 0.25, 0.0, 0.2, -0.15, -0.5, -0.9, -1.35, -1.85],
  [-6.2, -0.55, -0.3, -0.7, -1.05, -1.5, -2.0, -2.4],
  [-5.3, 0.15, -0.2, -0.6, -1.05, -1.6, -2.2],
  [-14.0, 0.8, 1.0, 0.75, 0.95, 1.15, 0.9, 1.1, 0.85, 1.0, 0.7, 0.85, 0.5, 0.2, -0.2],
  [-16.2, 0.8, 0.6, 0.85, 0.65, 0.9, 0.7, 0.5, 0.75, 0.55, 0.3, 0.45, 0.15, -0.2, -0.6, -1.05, -1.5],
  [-15.0, 0.35, 0.55, 0.75, 0.5, 0.7, 0.45, 0.6, 0.3, 0.5, 0.15, -0.15, -0.5, -0.9, -1.4, -1.95],
  [-14.4, 0.65, 0.45, 0.7, 0.9, 0.65, 0.8, 0.55, 0.7, 0.4, 0.15, -0.2, -0.6, -1.1, -1.6],
  [-13.6, 0.05, 0.25, 0.0, 0.3, 0.1, -0.15, 0.05, -0.25, -0.55, -0.9, -1.3, -1.75, -2.25],
  [-13.0, 0.9, 0.7, 0.95, 0.75, 1.0, 0.8, 0.6, 0.8, 0.5, 0.25, -0.1, -0.5, -0.95],
  [-12.3, 0.3, 0.5, 0.3, 0.55, 0.35, 0.15, 0.35, 0.0, -0.35, -0.75, -1.2, -1.7],
  [-11.7, 0.6, 0.8, 0.55, 0.75, 0.5, 0.7, 0.45, 0.2, -0.15, -0.55, -1.0, -1.5],
  [-11.1, -0.1, 0.1, -0.15, 0.05, -0.25, -0.5, -0.8, -1.15, -1.55, -2.0, -2.45],
  [-10.7, 0.85, 0.65, 0.9, 0.7, 0.5, 0.7, 0.4, 0.1, -0.3, -0.7, -1.2],
  [-10.1, 0.4, 0.2, 0.45, 0.25, 0.0, -0.3, -0.65, -1.05, -1.5, -2.0, -2.55],
  [-9.6, 0.6, 0.8, 0.55, 0.3, 0.5, 0.15, -0.2, -0.6, -1.05, -1.55],
  [-9.1, -0.2, -0.45, -0.7, -0.5, -0.9, -1.25, -1.65, -2.1, -2.6],
  [-8.7, 0.35, 0.15, 0.4, 0.05, -0.25, -0.6, -1.0, -1.45, -1.95],
  [-8.2, 0.95, 0.7, 0.9, 0.6, 0.3, -0.05, -0.45, -0.9, -1.4],
  [-7.6, -0.1, -0.35, -0.65, -1.0, -1.35, -1.8, -2.25, -2.75],
  [-7.1, 0.6, 0.4, 0.65, 0.3, -0.05, -0.45, -0.9, -1.5],
  [-6.7, 0.2, -0.05, -0.4, -0.8, -1.25, -1.75, -2.2],
  [-6.3, 0.75, 0.5, 0.7, 0.35, -0.05, -0.5, -1.0],
  [-5.9, -0.9, -1.2, -1.55, -1.9, -2.3, -2.8],
  [-5.6, 0.3, 0.05, -0.3, -0.7, -1.15, -1.65],
  [-5.1, -0.45, -0.8, -1.2, -1.6, -2.1, -2.6],
  [-4.8, 0.55, 0.25, -0.15, -0.6, -1.1],
  [-4.4, -0.7, -1.1, -1.55, -2.0, -2.5],
  [-3.7, 0.1, -0.3, -0.8, -1.35],
  [-3.2, -1.3, -1.75, -2.2, -2.7],
  [-2.8, -0.2, -0.75, -1.4],
  [-2.2, -0.9, -1.5, -2.1],
  [-1.6, -2.0, -2.6],
  [-1.4, 0.0, -0.8],
  [-1.1, -1.3, 0.85],
  [-17.2, 0.45, 0.65, 0.9, 0.6, 0.8, 0.55, 0.75, 0.5, 0.65, 0.35, 0.5, 0.2],
  [-18.9, 0.7, 0.5, 0.75, 0.95, 0.7, 0.85, 0.6, 0.8, 0.55],
  [-20.8, 0.6, 0.85, 0.65, 0.9, 0.7, 0.5, 0.75],
  [-21.8, 0.95, 0.75, 1.0, 0.8, 0.6, 0.85],
  [-14.7, -0.2, 0.0, -0.3, -0.1, 0.15, -0.15, -0.35, -0.6, -0.9, -1.25, -1.7],
  [-12.0, 1.3, 1.15, 1.35, 1.2, 1.45, 1.25, 1.05, 0.8, 0.45, 0.05, -0.4],
  [-10.4, 1.25, 1.4, 1.2, 1.45, 1.3, 1.55, 1.35, 1.1, 0.75, 0.3],
  [-8.8, 1.0, 1.2, 1.35, 1.2, 1.45, 1.3, 1.05, 0.7],
  [-6.5, 1.3, 1.1, 1.3, 1.0, 0.65, 0.2],
  [-4.9, 1.2, 0.95, 0.6, 0.1, -0.45],
  [-3.4, 0.85, 0.45, -0.05, -0.6],
  [-2.6, 0.5, -0.1, -0.85],
  [-11.4, 0.7, 0.95, 0.75, 1.0, 0.8, 0.6, 0.85, 0.65, 0.9, 0.7, 0.5, 0.75],
  [-10.9, 0.2, 0.45, 0.25, 0.5, 0.3, 0.55, 0.35, 0.15, 0.4, 0.2, 0.45],
  [-10.2, 0.9, 0.65, 0.95, 0.7, 1.0, 0.75, 0.55, 0.8, 0.6, 0.35, 0.55],
  [-9.7, -0.1, 0.15, -0.2, 0.05, -0.3, -0.05, -0.4, -0.15, -0.5, -0.3],
  [-9.3, 0.5, 0.75, 0.45, 0.7, 0.4, 0.65, 0.35, 0.6, 0.3, 0.5],
  [-8.9, 1.1, 0.85, 1.15, 0.9, 1.2, 0.95, 0.7, 0.95, 0.75],
  [-8.5, 0.15, -0.1, 0.2, -0.05, 0.25, 0.0, -0.3, -0.05, -0.35],
  [-8.1, 0.7, 0.45, 0.75, 0.5, 0.8, 0.55, 0.3, 0.6, 0.35],
  [-7.8, -0.35, -0.6, -0.3, -0.7, -0.45, -0.85, -0.6, -1.0],
  [-7.4, 0.35, 0.6, 0.3, 0.55, 0.25, 0.5, 0.2, 0.4],
  [-7.0, 0.95, 0.7, 1.0, 0.75, 0.5, 0.8, 0.55, 0.3],
  [-6.8, -0.05, 0.2, -0.15, 0.1, -0.3, -0.05, -0.5],
  [-6.4, 0.55, 0.3, 0.6, 0.35, 0.65, 0.4, 0.15],
  [-6.0, -0.7, -0.45, -0.8, -0.55, -0.95, -0.7, -1.1],
  [-5.7, 0.8, 0.55, 0.85, 0.6, 0.35, 0.6],
  [-5.4, 0.05, 0.3, -0.05, 0.2, -0.15, 0.1],
  [-5.0, -0.3, -0.55, -0.25, -0.6, -0.35, -0.7],
  [-4.7, 0.45, 0.2, 0.5, 0.25, 0.0],
  [-4.3, -0.15, 0.1, -0.25, 0.0, -0.4],
  [-3.9, 0.65, 0.4, 0.7, 0.3],
  [-3.6, -0.55, -0.3, -0.7, -0.45],
  [-3.1, 0.25, 0.5, 0.15, 0.4],
  [-2.5, -0.35, -0.1, -0.5],
  [-2.1, 0.6, 0.35, 0.7],
  [-1.7, -0.2, 0.1],
  [-12.6, 0.55, 0.8, 0.5, 0.75, 0.45, 0.7, 0.4, 0.65, 0.3, 0.0, -0.4, -0.85, -1.3],
  [-13.5, 0.95, 1.15, 0.9, 1.1, 0.85, 1.05, 0.8, 0.55, 0.75, 0.4, 0.1, -0.3, -0.75, -1.25],
  [-14.9, 0.45, 0.25, 0.5, 0.7, 0.45, 0.65, 0.4, 0.6, 0.35, 0.55, 0.25, -0.05, -0.45, -0.9, -1.4],
  [-15.8, 0.75, 0.55, 0.8, 0.6, 0.85, 0.65, 0.9, 0.6, 0.8, 0.5, 0.65, 0.35, 0.05, -0.3, -0.75, -1.25],
  [-17.0, 0.1, 0.35, 0.05, 0.3, 0.5, 0.25, 0.45, 0.2, 0.4, 0.1, 0.3, -0.05, -0.35, -0.7, -1.15, -1.6, -2.1],
  [-18.2, 0.55, 0.75, 0.5, 0.7, 0.9, 0.65, 0.85, 0.6, 0.8, 0.55, 0.7, 0.4, 0.55],
  [-19.5, 0.2, 0.45, 0.7, 0.5, 0.75, 0.55, 0.3, 0.55],
  [-21.3, 0.85, 1.05, 0.8, 1.0, 0.75, 0.95],
  [-22.3, 0.3, 0.55, 0.35, 0.6, 0.4],
  [-11.8, -0.45, -0.7, -0.5, -0.85, -1.1, -1.4, -1.25, -1.6, -2.0, -2.4, -2.85],
  [-8.4, -1.0, -1.3, -1.15, -1.55, -1.9, -2.3, -2.7, -3.1],
  [-6.1, -1.4, -1.7, -2.05, -2.4, -2.8, -3.2],
  [-4.5, -1.8, -2.15, -2.5, -2.9, -3.3],
  [-3.0, -2.3, -2.7, -3.1],
  [-7.3, 1.05, 1.3, 1.1, 1.35, 1.15, 0.85, 0.5, 0.15],
  [-5.2, 1.45, 1.65, 1.4, 1.1, 0.7],
];

// subgroup 4
const mean4 = [2.16, 1.86, 1.56, 1.32, 1.07, 0.86, 0.70, 0.58, 0.485, 0.425, 0.385, 0.345, 0.29, 0.20, 0.085, -0.09, -0.32, -0.62, -0.92, -1.21, -1.44, -1.60, -1.86, -2.45, -3.6];
const upper4 = [4.2, 3.3, 2.5, 1.9, 1.52, 1.33, 1.22, 1.15, 1.10, 1.06, 1.02, 0.97, 0.91, 0.84, 0.72, 0.55, 0.36, 0.17, -0.04, -0.29, -0.46, -0.48, -0.70, -1.12, -1.72];
const lower4 = [0.12, 0.22, 0.25, 0.22, 0.14, 0.04, -0.06, -0.15, -0.22, -0.25, -0.26, -0.28, -0.32, -0.40, -0.55, -0.78, -1.05, -1.45, -1.78, -2.08, -2.38, -2.70, -3.05, -3.5, -4.5];
const ref4 = -0.12;
const gray4: number[][] = [
  [-17.5, -0.38, 1.18, -1.0, -1.68, -1.62, -1.72, -2.5, -1.5, -1.4, -2.25],
  [-15.0, 1.18, 1.25, 1.1, 1.2, 1.35, 1.5, 1.43, 1.18, 1.47, 1.18, 1.08, 1.06, 0.2, -0.5],
  [-13.4, 1.08, 1.18, 1.27, 1.22, 0.95, 0.6, 0.75, 0.3, -0.2, -0.85, -1.5, -2.1, -2.7],
  [-12.0, 0.8, 1.05, 1.2, 0.9, 1.0, 0.55, 0.1, -0.5, -0.3, -1.1, -1.7, -2.4],
  [-10.6, 1.2, 1.1, 0.75, 1.0, 0.85, 1.03, 1.02, 0.6, -0.2, 0.3],
  [-2.6, 1.18, 1.58, -0.45],
  [-1.2, 0.6, -1.08],
  [-16.8, -0.25, 0.3, -0.6, -1.0, -1.9, -1.75, -2.55, -1.8],
  [-11.2, 0.15, -0.5, -0.9, -0.75, -1.3, -1.9, -2.4, -3.3],
  [-9.5, 0.55, 0.35, 0.6, 0.1, -0.1, -0.4, -0.2, -0.6, -0.35],
  [-8.5, 0.3, 0.55, 0.2, 0.25, -0.15, 0.0, -0.45, -0.3, 0.1],
  [-7.2, 0.45, 0.85, 0.6, 0.75, 0.3, -0.1, 0.05, -0.6],
  [-6.3, 1.0, 0.75, 0.9, 0.35, -0.2, -0.45, -0.9],
  [-4.8, 0.5, 0.2, 0.35, -0.3, 0.1],
  [-3.9, -0.1, 0.65, -0.6, 0.05],
  [-5.4, 1.05, 0.4, -0.25, -0.7, -0.9],
  [-10.0, 1.0, 1.2, 0.8, 0.2, -0.6, -1.4, -2.2, -2.9, -3.4],
  [-12.8, 0.0, -0.35, -0.2, -0.6, -1.2, -1.0, -1.6, -2.1],
  [-9.0, -0.8, -1.5, -1.2, -2.0, -2.7, -3.3],
  [-7.8, -1.0, -1.6, -2.3, -2.0, -2.8, -3.4],
  [-1.4, 0.4, -1.05],
  [-14.5, 0.5, 0.75, 1.15, 1.0, 0.4, -0.3, -0.9, -1.5, -1.2, -1.8, -2.5],
];

// ---------- layout / style ----------
const FONT = "'Liberation Sans', Arial, Helvetica, sans-serif";
const GRAY = "#BEBEBE";
const BAND = "#ADD8E6";
const COLS = [
  { axisLeft: 92.8, axisWidth: 338.5, center: 262 },
  { axisLeft: 582.3, axisWidth: 338, center: 751 },
];
const ROWS = [
  { axisTop: 51.7, axisHeight: 363.3, t1: 12, t2: 32, nameGap: 53 },
  { axisTop: 604, axisHeight: 362, t1: 547, t2: 567, nameGap: 50 },
];

const panels = [
  { mean: mean1, upper: upper1, lower: lower1, ref: ref1, gray: gray1, grayWidth: 1.6 },
  { mean: mean2, upper: upper2, lower: lower2, ref: ref2, gray: gray2, grayWidth: 1.6 },
  { mean: mean3, upper: upper3, lower: lower3, ref: ref3, gray: gray3, grayWidth: 1.6 },
  { mean: mean4, upper: upper4, lower: lower4, ref: ref4, gray: gray4, grayWidth: 1.1 },
];

// smooth cubic path through pixel points (Catmull-Rom style control points)
function curve(pts: number[][], first: string) {
  let d = `${first}${pts[0][0]} ${pts[0][1]}`;
  for (let k = 0; k < pts.length - 1; k++) {
    const p0 = pts[k - 1] || pts[k];
    const p1 = pts[k];
    const p2 = pts[k + 1];
    const p3 = pts[k + 2] || p2;
    const c1x = p1[0] + (p2[0] - p0[0]) / 6;
    const c1y = p1[1] + (p2[1] - p0[1]) / 6;
    const c2x = p2[0] - (p3[0] - p1[0]) / 6;
    const c2y = p2[1] - (p3[1] - p1[1]) / 6;
    d += ` C${c1x} ${c1y} ${c2x} ${c2y} ${p2[0]} ${p2[1]}`;
  }
  return d;
}

function buildOption() {
  const grid: any[] = [];
  const xAxis: any[] = [];
  const yAxis: any[] = [];
  const series: any[] = [];
  const graphic: any[] = [];
  const axisText = { fontSize: 16.5, fontFamily: FONT, color: "#000" };

  panels.forEach((p, i) => {
    const col = COLS[i % 2];
    const row = ROWS[Math.floor(i / 2)];
    const pxYear = col.axisWidth / 25;
    const pxUnit = row.axisHeight / 5;
    const g = grid.length;

    grid.push({
      left: col.axisLeft - pxYear, top: row.axisTop - 0.2 * pxUnit,
      width: 27 * pxYear, height: 5.4 * pxUnit, containLabel: false, outerBoundsMode: "none",
    });
    grid.push({
      left: col.axisLeft, top: row.axisTop, width: col.axisWidth, height: row.axisHeight,
      containLabel: false, outerBoundsMode: "none",
    });

    xAxis.push({ type: "value", gridIndex: g, min: -26, max: 1, show: false });
    yAxis.push({ type: "value", gridIndex: g, min: -3.2, max: 2.2, show: false });

    xAxis.push({
      type: "value", gridIndex: g + 1, min: -25, max: 0, interval: 5, position: "bottom",
      offset: 0.2 * pxUnit,
      axisLine: { show: true, onZero: false, lineStyle: { color: "#000", width: 1 } },
      axisTick: { show: true, length: 10, lineStyle: { color: "#000", width: 1 } },
      axisLabel: { ...axisText, margin: 18 },
      splitLine: { show: false },
      name: xName, nameLocation: "middle", nameGap: row.nameGap, nameTextStyle: axisText,
    });
    yAxis.push({
      type: "value", gridIndex: g + 1, min: -3, max: 2, interval: 1, position: "left",
      offset: pxYear,
      axisLine: { show: true, onZero: false, lineStyle: { color: "#000", width: 1 } },
      axisTick: { show: true, length: 10, lineStyle: { color: "#000", width: 1 } },
      axisLabel: { ...axisText, rotate: 90, margin: 21 },
      splitLine: { show: false },
      name: yName, nameLocation: "middle", nameGap: 61, nameRotate: 90, nameTextStyle: axisText,
    });

    const common = { xAxisIndex: g, yAxisIndex: g, silent: true, animation: false, clip: true };
    const lineCommon = { ...common, type: "line", symbol: "none", showSymbol: false, emphasis: { disabled: true } };

    p.gray.forEach((t) => {
      series.push({
        ...lineCommon, z: 1,
        data: t.slice(1).map((v, k) => [t[0] + k, v]),
        lineStyle: { color: GRAY, width: p.grayWidth },
      });
    });

    const up = p.upper;
    const lo = p.lower;
    series.push({
      ...common, type: "custom", z: 2,
      data: [[-12, 0]],
      renderItem: (_params: any, api: any) => {
        const top = years.map((x, k) => api.coord([x, up[k]]));
        const bot = years.map((x, k) => api.coord([x, lo[k]])).reverse();
        const d = curve(top, "M") + " " + curve(bot, "L") + " Z";
        return { type: "path", shape: { pathData: d }, style: { fill: BAND, stroke: null } };
      },
    });

    series.push({
      ...lineCommon, z: 3, smooth: true,
      data: years.map((x, k) => [x, p.mean[k]]),
      lineStyle: { color: "#000", width: 4 },
    });

    series.push({
      ...lineCommon, z: 4,
      data: [[years[0], p.ref], [years[years.length - 1], p.ref]],
      lineStyle: { color: "#FF0000", width: 4, type: [20, 15], cap: "butt" },
    });

    const titleStyle = {
      fontSize: 20, fontWeight: "bold", fontFamily: FONT, fill: "#000",
      textAlign: "center", textVerticalAlign: "middle", align: "center", verticalAlign: "middle",
    };
    graphic.push({ type: "text", x: col.center, y: row.t1, silent: true, style: { ...titleStyle, text: mainTitle } });
    graphic.push({ type: "text", x: col.center, y: row.t2, silent: true, style: { ...titleStyle, text: panelTitles[i] } });
  });

  return {
    animation: false,
    backgroundColor: "#ffffff",
    grid, xAxis, yAxis, series, graphic,
  };
}

export default function App() {
  const ref = useRef<HTMLDivElement>(null);
  useEffect(() => {
    if (!ref.current) return;
    const chart = echarts.init(ref.current, null, { renderer: "svg" });
    chart.setOption(buildOption() as any);
    return () => chart.dispose();
  }, []);
  return (
    <div
      ref={ref}
      style={{ position: "absolute", left: 0, top: 0, width: 928, height: 1050, background: "#fff" }}
    />
  );
}
